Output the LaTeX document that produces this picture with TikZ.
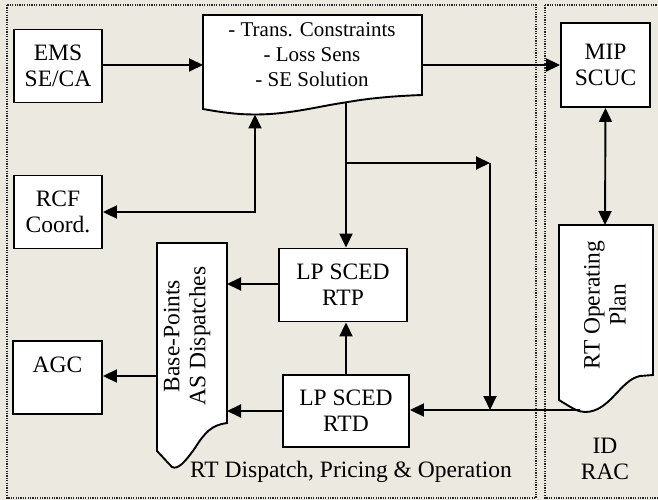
\documentclass[tikz,border=0pt]{standalone}
\usepackage{fontspec}
\setmainfont{Liberation Serif}
\usetikzlibrary{arrows.meta}
\definecolor{bgbeige}{RGB}{236,233,224}
\begin{document}
\begin{tikzpicture}[x=1pt,y=-1pt,
 box/.style={draw, line width=1.9pt, fill=white, minimum width=88pt, minimum height=73pt, align=center, inner sep=0pt},
 lbl/.style={align=center, inner sep=0pt},
 shp/.style={draw, line width=1.9pt, fill=white, line join=miter},
 conn/.style={line width=1.9pt, -{Triangle[length=14pt,width=13pt]}},
 conn2/.style={line width=1.9pt, {Triangle[length=14pt,width=13pt]}-{Triangle[length=14pt,width=13pt]}},
 panel/.style={draw=black!85, line width=1.3pt, dash pattern=on 1.2pt off 1.2pt},
 font=\fontsize{23.5}{26}\selectfont]
\useasboundingbox (0,0) rectangle (658,500);
\fill[bgbeige] (0,0) rectangle (658,500);
% panels
\draw[panel] (7,5) rectangle (536,498);
\draw[panel] (545,5) -- (662,5);
\draw[panel] (545,5) -- (545,498) -- (662,498);
% document shapes
\draw[shp] (203,15) -- (422,15) -- (422,95)
  .. controls (395,96) and (370,98) .. (345,102.5)
  .. controls (320,106) and (290,114.5) .. (255,114.5)
  .. controls (240,114.5) and (225,113) .. (203,109) -- cycle;
\draw[shp] (157,243) -- (227,243) -- (227,423)
  .. controls (212,425) and (205,432) .. (195,448)
  .. controls (185,462) and (178,470) .. (172,467)
  -- (157,451) -- cycle;
\draw[shp] (559,225) -- (653,225) -- (653,375) -- (640,376)
  .. controls (620,380) and (610,412) .. (585,412)
  .. controls (578,412) and (572,408) .. (559,400) -- cycle;
% named coordinates on shape edges
\coordinate (docL) at (203,65);
\coordinate (docR) at (422,65);
\coordinate (docB1) at (255,114.5);
\coordinate (docB2) at (346,103);
\coordinate (bpR1) at (227,284);
\coordinate (bpR2) at (227,411);
\coordinate (bpL) at (157,376);
\coordinate (opT) at (605,225);
\coordinate (opB) at (580,410);
\coordinate (split) at (346,163);
\coordinate (vtop) at (490,163);
\coordinate (vbot) at (490,410);
% boxes
\node[box] (ems) at (58,66) {EMS\\SE/CA};
\node[box] (rcf) at (58,212) {RCF\\Coord.};
\node[box, minimum width=89pt] (agc) at (57.5,377.5) {AGC\\\mbox{}};
\node[box, minimum width=89pt, minimum height=84pt] (mip) at (605.5,65) {MIP\\SCUC};
\node[box, minimum width=128pt] (rtp) at (343,285) {LP SCED\\RTP};
\node[box, minimum width=126pt, minimum height=72pt] (rtd) at (346,411) {LP SCED\\RTD};
% shape texts
\node[lbl, font=\fontsize{21}{25}\selectfont] (doc) at (312,55) {- Trans. Constraints\\- Loss Sens\\- SE Solution};
\node[lbl, rotate=90] (bp) at (187,336) {Base-Points\\AS Dispatches};
\node[lbl, rotate=90] (rtop) at (605,305) {RT Operating\\Plan};
% connectors
\draw[conn] (ems.east |- docL) -- (docL);
\draw[conn] (docR) -- (mip.west |- docR);
\draw[conn2] (mip.south) -- (opT);
\draw[conn2] (rcf.east) -| (docB1);
\draw[conn] (docB2) -- (docB2 |- rtp.north);
\draw[line width=1.9pt] (docB2) -- (split);
\draw[conn] (split) -- (vtop);
\draw[conn] (vtop) -- (vbot);
\draw[conn] (opB) -- (rtd.east |- opB);
\draw[conn] (rtd.north) -- (rtd.north |- rtp.south);
\draw[conn] (rtp.west |- bpR1) -- (bpR1);
\draw[conn] (rtd.west) -- (rtd.west -| bpR2);
\draw[conn] (bpL) -- (agc.east |- bpL);
% labels
\node[lbl] (title) at (351,472) {RT Dispatch, Pricing \& Operation};
\node[lbl] (idrac) at (605,459) {ID\\RAC};
\end{tikzpicture}
\end{document}
